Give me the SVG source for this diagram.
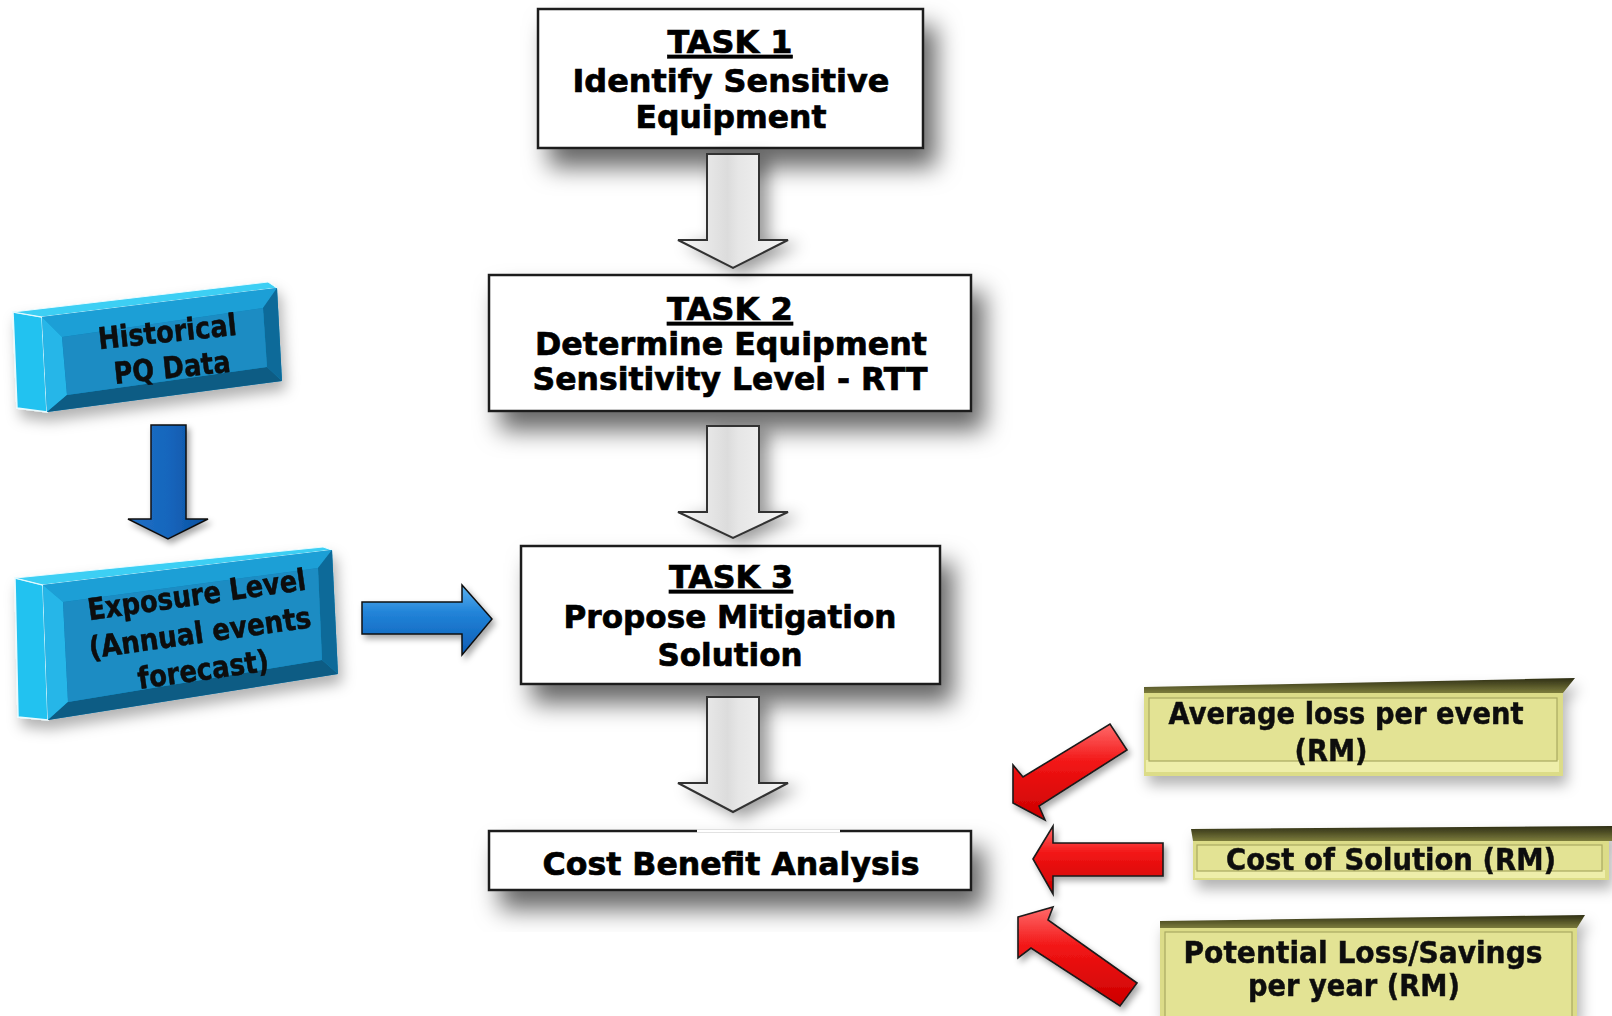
<svg xmlns="http://www.w3.org/2000/svg" width="1612" height="1016" viewBox="0 0 1612 1016">
<style>
.task{fill:#fff;stroke:#1a1a1a;stroke-width:2.5}
.t{font-family:"DejaVu Sans","Liberation Sans",sans-serif;font-weight:bold;fill:#000;stroke:#000;stroke-width:0.7;text-anchor:middle;font-size:32px}
.ty{font-family:"DejaVu Sans","Liberation Sans",sans-serif;font-weight:bold;fill:#111;stroke:#111;stroke-width:0.5;text-anchor:middle;font-size:30px}
.tb{font-family:"DejaVu Sans","Liberation Sans",sans-serif;font-weight:bold;fill:#0a0a0a;stroke:#0a0a0a;stroke-width:0.5;text-anchor:middle;font-size:30px}
.warrow{fill:url(#wG);stroke:#333;stroke-width:2;stroke-linejoin:miter}
.rarrow{fill:url(#rG);stroke:#1a1a1a;stroke-width:1.6;stroke-linejoin:miter}
.yface{fill:#dcdc88}
.yinner{fill:#e3e394;stroke:#a9a962;stroke-width:1.2}
.ytop{fill:url(#yTopG)}
.ylow{fill:#eeeeaa}
</style>
<defs>
<filter id="boxShadow" x="-20%" y="-30%" width="150%" height="200%">
<feDropShadow dx="12" dy="18" stdDeviation="12" flood-color="#000" flood-opacity="0.6"/>
</filter>
<filter id="softShadow" x="-15%" y="-30%" width="140%" height="180%">
<feDropShadow dx="4" dy="9" stdDeviation="7" flood-color="#000" flood-opacity="0.3"/>
</filter>
<filter id="arrShadow" x="-50%" y="-20%" width="220%" height="160%">
<feDropShadow dx="9" dy="5" stdDeviation="8" flood-color="#000" flood-opacity="0.4"/>
</filter>
<filter id="smallShadow" x="-20%" y="-20%" width="150%" height="150%">
<feDropShadow dx="3" dy="4" stdDeviation="3" flood-color="#000" flood-opacity="0.35"/>
</filter>
<linearGradient id="wG" x1="0" y1="0" x2="1" y2="0">
<stop offset="0" stop-color="#f7f7f7"/>
<stop offset="0.45" stop-color="#dcdcdc"/>
<stop offset="0.55" stop-color="#e6e6e6"/>
<stop offset="1" stop-color="#f5f5f5"/>
</linearGradient>
<linearGradient id="rG" x1="0" y1="0" x2="0" y2="1">
<stop offset="0" stop-color="#ff6a6a"/>
<stop offset="0.4" stop-color="#f21515"/>
<stop offset="1" stop-color="#cc0000"/>
</linearGradient>
<linearGradient id="bG" x1="0" y1="0" x2="0" y2="1">
<stop offset="0" stop-color="#5ab2f0"/>
<stop offset="0.4" stop-color="#2183d8"/>
<stop offset="1" stop-color="#0d5cb5"/>
</linearGradient>
<linearGradient id="bG2" x1="0" y1="0" x2="1" y2="0">
<stop offset="0" stop-color="#1f6fc4"/>
<stop offset="0.5" stop-color="#1666bd"/>
<stop offset="1" stop-color="#0a4f9e"/>
</linearGradient>
<linearGradient id="yTopG" x1="0" y1="0" x2="0" y2="1">
<stop offset="0" stop-color="#2e2e14"/>
<stop offset="1" stop-color="#7c7c3c"/>
</linearGradient>
</defs>
<rect width="1612" height="1016" fill="#fff"/>

<g id="task1">
<rect class="task" x="538" y="9" width="385" height="139" filter="url(#boxShadow)"/>
<text class="t" x="730" y="53" textLength="125" lengthAdjust="spacingAndGlyphs" text-decoration="underline">TASK 1</text>
<text class="t" x="731" y="92" textLength="317" lengthAdjust="spacingAndGlyphs">Identify Sensitive</text>
<text class="t" x="731" y="128" textLength="191" lengthAdjust="spacingAndGlyphs">Equipment</text>
</g>

<g id="task2">
<rect class="task" x="489" y="275" width="482" height="136" filter="url(#boxShadow)"/>
<text class="t" x="730" y="320" textLength="126" lengthAdjust="spacingAndGlyphs" text-decoration="underline">TASK 2</text>
<text class="t" x="731" y="355" textLength="392" lengthAdjust="spacingAndGlyphs">Determine Equipment</text>
<text class="t" x="730" y="390" textLength="395" lengthAdjust="spacingAndGlyphs">Sensitivity Level - RTT</text>
</g>

<g id="task3">
<rect class="task" x="521" y="546" width="419" height="138" filter="url(#boxShadow)"/>
<text class="t" x="731" y="588" textLength="124" lengthAdjust="spacingAndGlyphs" text-decoration="underline">TASK 3</text>
<text class="t" x="730" y="628" textLength="333" lengthAdjust="spacingAndGlyphs">Propose Mitigation</text>
<text class="t" x="730" y="666" textLength="145" lengthAdjust="spacingAndGlyphs">Solution</text>
</g>

<g id="cost-benefit">
<rect class="task" x="489" y="831" width="482" height="59" filter="url(#boxShadow)"/>
<line x1="697" y1="831" x2="840" y2="831" stroke="#fff" stroke-width="3"/>
<text class="t" x="731" y="875" textLength="377" lengthAdjust="spacingAndGlyphs">Cost Benefit Analysis</text>
</g>

<g id="historical" filter="url(#softShadow)">
<polygon points="13,312 42,317 47,412 17,408" fill="#20c2f0" stroke="#e8fbff" stroke-width="1.5"/>
<polygon points="13,312 268,282 277,288 42,317" fill="#3ccff4" stroke="#e8fbff" stroke-width="1"/>
<polygon points="42,317 277,288 282,381 47,412" fill="#1589bd"/>
<polygon points="42,317 277,288 263,308 62,337" fill="#1f9fd6"/>
<polygon points="42,317 62,337 67,395 47,412" fill="#25b6e8"/>
<polygon points="47,412 67,395 267,367 282,381" fill="#0b5b84"/>
<polygon points="277,288 282,381 267,367 263,308" fill="#0e6b99"/>
<polygon points="62,337 263,308 267,367 67,395" fill="#1a8cc3"/>
<g transform="rotate(-6 170 358)">
<text class="tb" x="170" y="342" textLength="139" lengthAdjust="spacingAndGlyphs">Historical</text>
<text class="tb" x="171" y="378" textLength="117" lengthAdjust="spacingAndGlyphs">PQ Data</text>
</g>
</g>

<g id="exposure" filter="url(#softShadow)">
<polygon points="15,578 43,585 48,720 18,717" fill="#20c2f0" stroke="#e8fbff" stroke-width="1.5"/>
<polygon points="15,578 323,547 332,550 43,585" fill="#3ccff4" stroke="#e8fbff" stroke-width="1"/>
<polygon points="43,585 332,550 338,674 48,720" fill="#1589bd"/>
<polygon points="43,585 332,550 318,568 63,602" fill="#1f9fd6"/>
<polygon points="43,585 63,602 68,702 48,720" fill="#25b6e8"/>
<polygon points="48,720 68,702 322,660 338,674" fill="#0b5b84"/>
<polygon points="332,550 338,674 322,660 318,568" fill="#0e6b99"/>
<polygon points="63,602 318,568 322,660 68,702" fill="#1a8cc3"/>
<g transform="rotate(-8 200 640)">
<text class="tb" x="203" y="605" textLength="220" lengthAdjust="spacingAndGlyphs">Exposure Level</text>
<text class="tb" x="201" y="643" textLength="224" lengthAdjust="spacingAndGlyphs">(Annual events</text>
<text class="tb" x="199" y="680" textLength="132" lengthAdjust="spacingAndGlyphs">forecast)</text>
</g>
</g>

<g id="avg-loss" filter="url(#softShadow)">
<rect class="yface" x="1144" y="692" width="419" height="84"/>
<rect class="ylow" x="1146" y="760" width="413" height="12"/>
<rect class="yinner" x="1149" y="698" width="408" height="63"/>
<polygon class="ytop" points="1144,687 1575,678 1563,693 1144,693"/>
<text class="ty" x="1346" y="724" textLength="355" lengthAdjust="spacingAndGlyphs">Average loss per event</text>
<text class="ty" x="1331" y="761" textLength="73" lengthAdjust="spacingAndGlyphs">(RM)</text>
</g>

<g id="cost-solution" filter="url(#softShadow)">
<rect class="yface" x="1193" y="840" width="416" height="40"/>
<rect class="ylow" x="1195" y="870" width="410" height="8"/>
<rect class="yinner" x="1197" y="845" width="405" height="26"/>
<polygon class="ytop" points="1191,829 1612,826 1612,841 1193,841"/>
<text class="ty" x="1391" y="870" textLength="330" lengthAdjust="spacingAndGlyphs">Cost of Solution (RM)</text>
</g>

<g id="potential-loss" filter="url(#softShadow)">
<rect class="yface" x="1160" y="927" width="417" height="89"/>
<rect class="yinner" x="1165" y="932" width="407" height="90"/>
<polygon class="ytop" points="1160,921 1585,915 1577,928 1160,928"/>
<text class="ty" x="1363" y="963" textLength="359" lengthAdjust="spacingAndGlyphs">Potential Loss/Savings</text>
<text class="ty" x="1354" y="996" textLength="212" lengthAdjust="spacingAndGlyphs">per year (RM)</text>
</g>

<g id="connectors">
<polygon class="warrow" filter="url(#arrShadow)" points="707,154 759,154 759,240 788,240 733,268 678,240 707,240"/>
<polygon class="warrow" filter="url(#arrShadow)" points="707,426 759,426 759,512 788,512 733,538 678,512 707,512"/>
<polygon class="warrow" filter="url(#arrShadow)" points="707,697 759,697 759,783 788,783 733,812 678,783 707,783"/>
<polygon fill="url(#bG2)" stroke="#111" stroke-width="1.5" filter="url(#smallShadow)" points="151,425 186,425 186,519 208,519 168,539 128,519 151,519"/>
<polygon fill="url(#bG)" stroke="#111" stroke-width="1.5" filter="url(#smallShadow)" points="362,602 462,602 462,585 492,619 462,655 462,634 362,634"/>
<polygon class="rarrow" filter="url(#smallShadow)" points="1013,803 1013,765 1023,777 1110,724 1127,750 1039,806 1045,820"/>
<polygon class="rarrow" filter="url(#smallShadow)" points="1033,859 1053,826 1053,843 1163,843 1163,876 1053,876 1053,894"/>
<polygon class="rarrow" filter="url(#smallShadow)" points="1018,917 1053,907 1048,920 1137,983 1120,1006 1031,948 1018,958"/>
</g>
</svg>
